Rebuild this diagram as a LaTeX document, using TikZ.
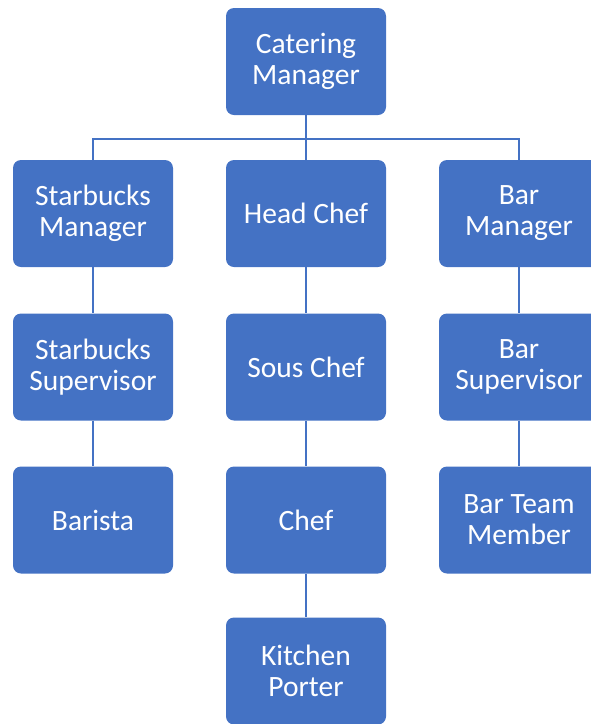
\documentclass[tikz,border=0pt]{standalone}
\usepackage{fontspec}
\setmainfont{Carlito}
\definecolor{officeblue}{HTML}{4472C4}
\definecolor{lineblue}{HTML}{4472C4}

\begin{document}
\begin{tikzpicture}[x=1pt,y=-1pt]
  \tikzstyle{o} = [rectangle, rounded corners=8pt, fill=officeblue, text=white,
  minimum width=160pt, minimum height=107pt, inner sep=0pt, align=center,
  font=\fontsize{29.5pt}{31pt}\selectfont];
  \tikzstyle{l} = [line width=1.5pt, color=lineblue];

  \useasboundingbox (0,0) rectangle (591,724);

  \node[o] (cm) at (306, 61.5) {Catering\\Manager};

  \node[o] (sm) at (93, 213.5) {Starbucks\\Manager};
  \node[o] (hc) at (306, 213.5) {Head Chef};
  \node[o] (bm) at (519, 213.5) {Bar\\Manager};

  \node[o] (ss) at (93, 367) {Starbucks\\Supervisor};
  \node[o] (sc) at (306, 367) {Sous Chef};
  \node[o] (bs) at (519, 367) {Bar\\Supervisor};

  \node[o] (ba) at (93, 520) {Barista};
  \node[o] (ch) at (306, 520) {Chef};
  \node[o] (bt) at (519, 520) {Bar Team\\Member};

  \node[o] (kp) at (306, 671) {Kitchen\\Porter};

  \coordinate (bus) at (0, 139);

  \draw[l] (cm.south) -- (hc.north);
  \draw[l] (cm.south |- bus) -| (sm.north);
  \draw[l] (cm.south |- bus) -| (bm.north);

  \draw[l] (sm) -- (ss);
  \draw[l] (ss) -- (ba);

  \draw[l] (hc) -- (sc);
  \draw[l] (sc) -- (ch);
  \draw[l] (ch) -- (kp);

  \draw[l] (bm) -- (bs);
  \draw[l] (bs) -- (bt);
\end{tikzpicture}
\end{document}
